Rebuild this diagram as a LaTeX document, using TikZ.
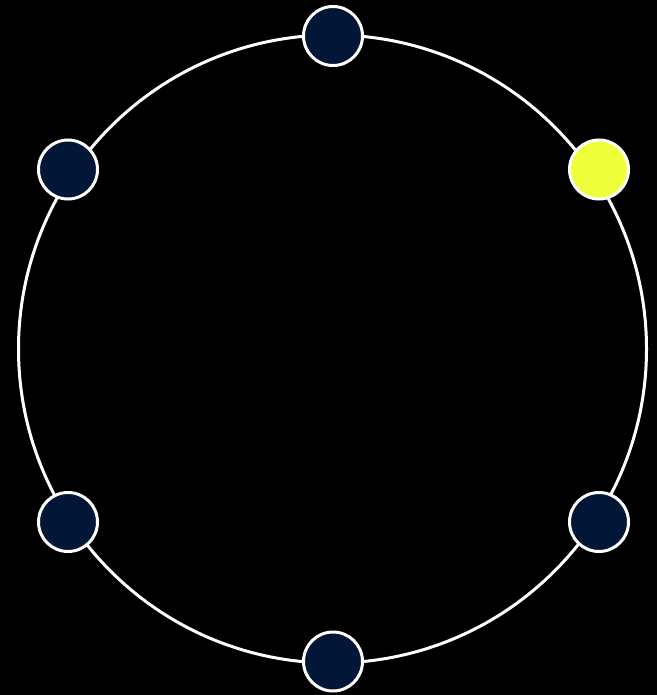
\documentclass[tikz,border=0pt]{standalone}
\definecolor{navy}{RGB}{2,22,56}
\definecolor{lime}{RGB}{239,255,58}
\tikzset{
  ring/.style={draw=white,line width=3pt},
  dot/.style={circle,draw=white,line width=3pt,fill=navy,minimum size=59pt,inner sep=0pt},
  hot/.style={dot,fill=lime}
}
\begin{document}
\begin{tikzpicture}[x=1pt,y=-1pt]
\fill[black] (0,0) rectangle (657,695);
\useasboundingbox (0,0) rectangle (657,695);
\node[circle,ring,minimum size=628pt,inner sep=0pt] (big) at (332.5,349) {};
\node[dot] (n1) at (333,36) {};
\node[hot] (n2) at (599,169.5) {};
\node[dot] (n3) at (599,522) {};
\node[dot] (n4) at (333,661.5) {};
\node[dot] (n5) at (68,522) {};
\node[dot] (n6) at (68,169.5) {};
\end{tikzpicture}
\end{document}
